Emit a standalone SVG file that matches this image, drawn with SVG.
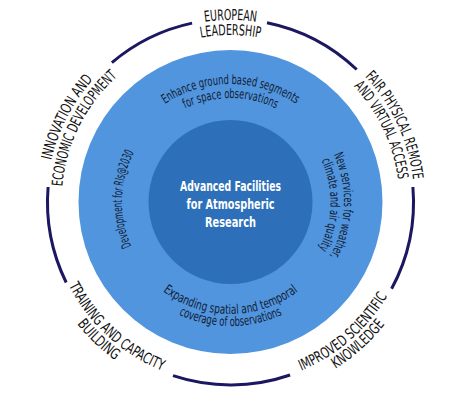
<svg xmlns="http://www.w3.org/2000/svg" xmlns:xlink="http://www.w3.org/1999/xlink" width="463" height="413" viewBox="0 0 463 413">
<style>
.outer{font-family:"DejaVu Sans Condensed","DejaVu Sans",sans-serif;font-size:15px;fill:#111111;}
.inner{font-family:"DejaVu Sans Condensed","DejaVu Sans",sans-serif;font-size:13px;fill:#141c33;}
.ctr{font-family:"DejaVu Sans Condensed","DejaVu Sans",sans-serif;font-size:14px;font-weight:bold;fill:#ffffff;}
.arc{fill:none;stroke:#1b1760;stroke-width:3;stroke-linecap:butt;}
</style>
<defs>
<path id="o182" d="M-181.31,-15.86 A182,182 0 0 1 181.31,-15.86"/>
<path id="o167" d="M-166.36,-14.56 A167,167 0 0 1 166.36,-14.56"/>
<path id="o184" d="M-183.30,-16.04 A184,184 0 0 1 183.30,-16.04"/>
<path id="o169" d="M-168.36,-14.73 A169,169 0 0 1 168.36,-14.73"/>
<path id="o118" d="M-117.55,-10.28 A118,118 0 0 1 117.55,-10.28"/>
<path id="o104" d="M-103.60,-9.06 A104,104 0 0 1 103.60,-9.06"/>
<path id="o108" d="M-108.09,-9.46 A108.5,108.5 0 0 1 108.09,-9.46"/>
<path id="o113" d="M-113.07,-9.89 A113.5,113.5 0 0 1 113.07,-9.89"/>
<path id="o100" d="M-99.62,-8.72 A100,100 0 0 1 99.62,-8.72"/>
<path id="i182" d="M-181.31,15.86 A182,182 0 0 0 181.31,15.86"/>
<path id="i196" d="M-195.25,17.08 A196,196 0 0 0 195.25,17.08"/>
<path id="i183" d="M-182.30,15.95 A183,183 0 0 0 182.30,15.95"/>
<path id="i197" d="M-196.25,17.17 A197,197 0 0 0 196.25,17.17"/>
<path id="i112" d="M-111.57,9.76 A112,112 0 0 0 111.57,9.76"/>
<path id="i124" d="M-123.53,10.81 A124,124 0 0 0 123.53,10.81"/>
</defs>
<rect width="463" height="413" fill="#ffffff"/>

<g id="ring">
<circle cx="230.5" cy="202" r="152" fill="#5095de"/>
</g>

<g id="connectors">
<path class="arc" d="M111.9,62.6 A183,183 0 0 1 192.1,23.1"/>
<path class="arc" d="M267,22.7 A183,183 0 0 1 356.7,69.5"/>
<path class="arc" d="M412.9,187 A183,183 0 0 1 391.6,288.8"/>
<path class="arc" d="M290.1,375 A183,183 0 0 1 173,375.7"/>
<path class="arc" d="M66.2,282.5 A183,183 0 0 1 48.1,187"/>
</g>

<g id="core">
<circle cx="230.5" cy="202" r="82" fill="#2d70b9"/>
<text class="ctr" text-anchor="middle" x="230.5" y="191" textLength="101" lengthAdjust="spacingAndGlyphs">Advanced Facilities</text>
<text class="ctr" text-anchor="middle" x="230.5" y="209" textLength="88" lengthAdjust="spacingAndGlyphs">for Atmospheric</text>
<text class="ctr" text-anchor="middle" x="230.5" y="227" textLength="51" lengthAdjust="spacingAndGlyphs">Research</text>
</g>

<g id="inner-top">
<text class="inner" text-anchor="middle" transform="translate(230.5,202)"><textPath xlink:href="#o118" href="#o118" startOffset="50%" textLength="139" lengthAdjust="spacingAndGlyphs">Enhance ground based segments</textPath></text>
<text class="inner" text-anchor="middle" transform="translate(230.5,202)"><textPath xlink:href="#o104" href="#o104" startOffset="50%" textLength="94" lengthAdjust="spacingAndGlyphs">for space observations</textPath></text>
</g>

<g id="inner-left">
<text class="inner" text-anchor="middle" transform="translate(230.5,202) rotate(-88.4)"><textPath xlink:href="#o108" href="#o108" startOffset="50%" textLength="97" lengthAdjust="spacingAndGlyphs">Development for RIs@2030</textPath></text>
</g>

<g id="inner-right">
<text class="inner" text-anchor="middle" transform="translate(230.5,202) rotate(92)"><textPath xlink:href="#o113" href="#o113" startOffset="50%" textLength="106" lengthAdjust="spacingAndGlyphs">New services for weather,</textPath></text>
<text class="inner" text-anchor="middle" transform="translate(230.5,202) rotate(91.7)"><textPath xlink:href="#o100" href="#o100" startOffset="50%" textLength="92" lengthAdjust="spacingAndGlyphs">climate and air quality</textPath></text>
</g>

<g id="inner-bottom">
<text class="inner" text-anchor="middle" transform="translate(230.5,202)"><textPath xlink:href="#i112" href="#i112" startOffset="50%" textLength="145" lengthAdjust="spacingAndGlyphs">Expanding spatial and temporal</textPath></text>
<text class="inner" text-anchor="middle" transform="translate(230.5,202)"><textPath xlink:href="#i124" href="#i124" startOffset="50%" textLength="107" lengthAdjust="spacingAndGlyphs">coverage of observations</textPath></text>
</g>

<g id="label-european-leadership">
<text class="outer" text-anchor="middle" transform="translate(230.5,202)"><textPath xlink:href="#o182" href="#o182" startOffset="50%" textLength="52" lengthAdjust="spacingAndGlyphs">EUROPEAN</textPath></text>
<text class="outer" text-anchor="middle" transform="translate(230.5,202)"><textPath xlink:href="#o167" href="#o167" startOffset="50%" textLength="60" lengthAdjust="spacingAndGlyphs">LEADERSHIP</textPath></text>
</g>

<g id="label-innovation">
<text class="outer" text-anchor="middle" transform="translate(230.5,202) rotate(-62.6)"><textPath xlink:href="#o184" href="#o184" startOffset="50%" textLength="92" lengthAdjust="spacingAndGlyphs">INNOVATION AND</textPath></text>
<text class="outer" text-anchor="middle" transform="translate(230.5,202) rotate(-63.4)"><textPath xlink:href="#o169" href="#o169" startOffset="50%" textLength="126" lengthAdjust="spacingAndGlyphs">ECONOMIC DEVELOPMENT</textPath></text>
</g>

<g id="label-fair-access">
<text class="outer" text-anchor="middle" transform="translate(230.5,202) rotate(65)"><textPath xlink:href="#o184" href="#o184" startOffset="50%" textLength="116" lengthAdjust="spacingAndGlyphs">FAIR PHYSICAL REMOTE</textPath></text>
<text class="outer" text-anchor="middle" transform="translate(230.5,202) rotate(64.6)"><textPath xlink:href="#o169" href="#o169" startOffset="50%" textLength="105" lengthAdjust="spacingAndGlyphs">AND VIRTUAL ACCESS</textPath></text>
</g>

<g id="label-training">
<text class="outer" text-anchor="middle" transform="translate(230.5,202) rotate(42.4)"><textPath xlink:href="#i182" href="#i182" startOffset="50%" textLength="129" lengthAdjust="spacingAndGlyphs">TRAINING AND CAPACITY</textPath></text>
<text class="outer" text-anchor="middle" transform="translate(230.5,202) rotate(43.8)"><textPath xlink:href="#i196" href="#i196" startOffset="50%" textLength="53" lengthAdjust="spacingAndGlyphs">BUILDING</textPath></text>
</g>

<g id="label-improved">
<text class="outer" text-anchor="middle" transform="translate(230.5,202) rotate(-40.9)"><textPath xlink:href="#i183" href="#i183" startOffset="50%" textLength="116" lengthAdjust="spacingAndGlyphs">IMPROVED SCIENTIFIC</textPath></text>
<text class="outer" text-anchor="middle" transform="translate(230.5,202) rotate(-41.9)"><textPath xlink:href="#i197" href="#i197" startOffset="50%" textLength="67" lengthAdjust="spacingAndGlyphs">KNOWLEDGE</textPath></text>
</g>
</svg>
